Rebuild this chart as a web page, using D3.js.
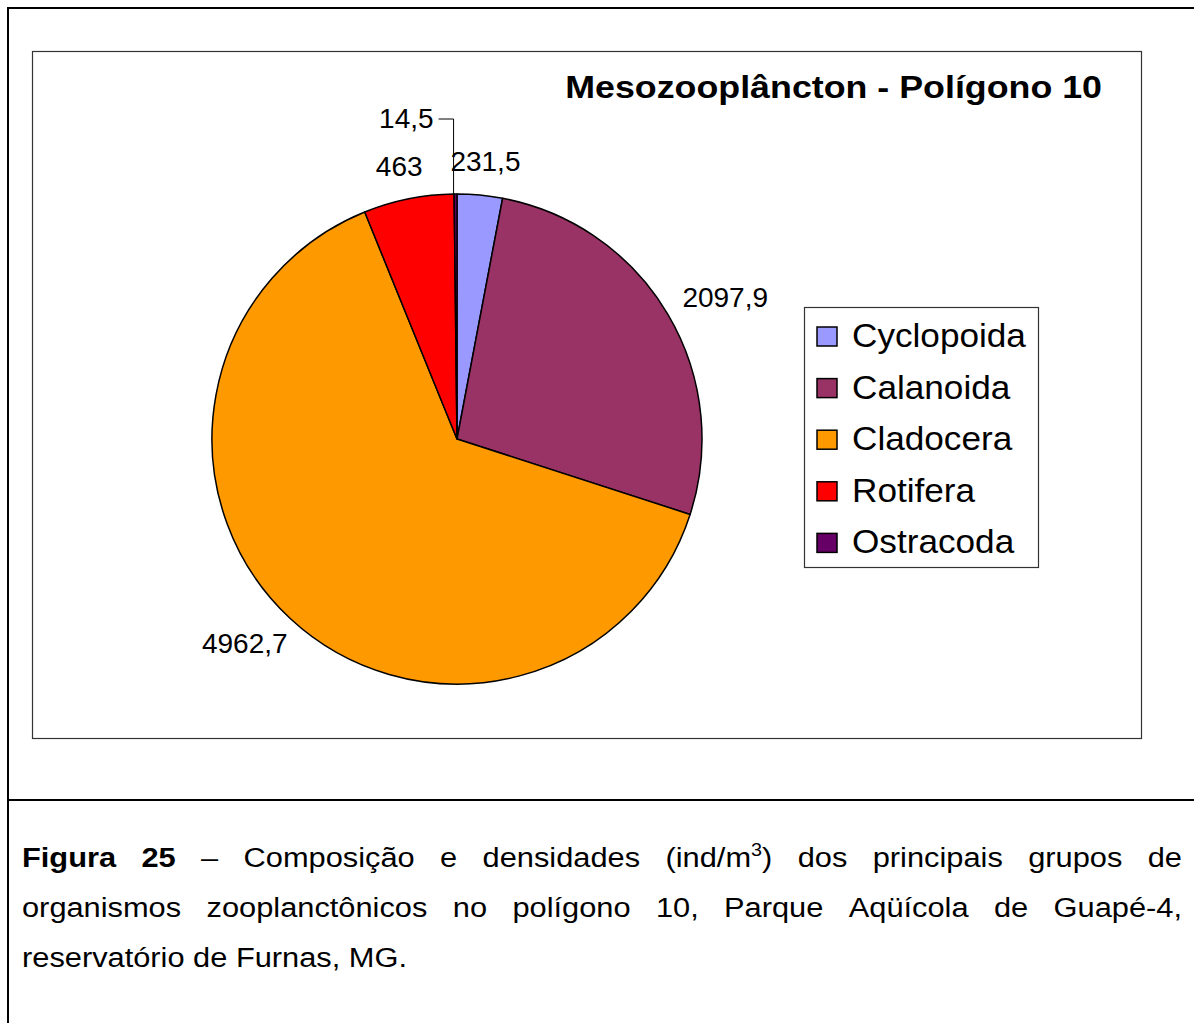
<!DOCTYPE html>
<html>
<head>
<meta charset="utf-8">
<script src="https://cdn.jsdelivr.net/npm/d3@7"></script>
<style>
  body { margin: 0; background: #fff; }
  text { font-family: "Liberation Sans", Arial, sans-serif; fill: #000; }
</style>
</head>
<body>
<div id="chart"></div>
<script>
// Chart data
var categories = ["Cyclopoida", "Calanoida", "Cladocera", "Rotifera", "Ostracoda"];
var values = [231.5, 2097.9, 4962.7, 463, 14.5];
var colors = ["#9999FF", "#993366", "#FF9900", "#FF0000", "#660066"];
var title = "Mesozooplâncton - Polígono 10";

// Caption lines (justified lines, last one left aligned)
var caption1 = [["Figura", true], ["25", true], ["–"], ["Composição"], ["e"], ["densidades"], ["(ind/m|3|)"], ["dos"], ["principais"], ["grupos"], ["de"]];
var caption2 = ["organismos", "zooplanctônicos", "no", "polígono", "10,", "Parque", "Aqüícola", "de", "Guapé-4,"];
var caption3 = "reservatório de Furnas, MG.";

var W = 1194, H = 1023;

var svg = d3.select("#chart").append("svg")
    .attr("width", W)
    .attr("height", H);

// Outer frame
svg.append("path")
    .attr("d", "M" + (W + 5) + ",8 H8 V" + (H + 5))
    .attr("fill", "none")
    .attr("stroke", "#000")
    .attr("stroke-width", 2);
svg.append("line")
    .attr("x1", 8).attr("x2", W + 5)
    .attr("y1", 800).attr("y2", 800)
    .attr("stroke", "#000")
    .attr("stroke-width", 2);

// Chart area box
svg.append("rect")
    .attr("x", 32.5).attr("y", 51.5)
    .attr("width", 1109).attr("height", 687)
    .attr("fill", "#fff")
    .attr("stroke", "#333")
    .attr("stroke-width", 1.2);

// text helper, sx = sideways stretch of the picture's text
function sText(parent, x, y, str, size, anchor, bold, sx) {
    sx = sx || 1;
    return parent.append("text")
        .attr("transform", "translate(" + x + "," + y + ") scale(" + sx + ",1)")
        .attr("text-anchor", anchor || "start")
        .style("font-size", size + "px")
        .style("font-weight", bold ? "bold" : "normal")
        .text(str);
}

// Title, fitted between 565 and 1102
var tt = sText(svg, 1102, 98, title, 32, "end", true);
var tw = tt.node().getComputedTextLength();
tt.attr("transform", "translate(1102,98) scale(" + (537 / tw) + ",1)");

// Pie
var cx = 457, cy = 439, r = 245;
var pie = d3.pie().sort(null).value(function(d) { return d; });
var arcs = pie(values);
var arc = d3.arc().innerRadius(0).outerRadius(r);

var g = svg.append("g").attr("transform", "translate(" + cx + "," + cy + ")");
g.selectAll("path.slice")
    .data(arcs)
    .enter().append("path")
    .attr("class", "slice")
    .attr("d", arc)
    .attr("fill", function(d, i) { return colors[i]; })
    .attr("stroke", "#000")
    .attr("stroke-width", 1.5)
    .attr("stroke-linejoin", "round");

// Labels with decimal comma
var pt = d3.formatLocale({decimal: ",", thousands: ".", grouping: [3], currency: ["", ""]});
var fmt = pt.format(".1~f");
var gap = 24;

arcs.forEach(function(d, i) {
    var a = (d.startAngle + d.endAngle) / 2;
    var s = Math.sin(a), c = -Math.cos(a);
    var ex = r * s, ey = r * c;
    var t = sText(g, 0, 0, fmt(values[i]), 28, "middle");
    var w = t.node().getComputedTextLength(), h = 20;
    if (i == values.length - 1) {
        // small slice: label pulled up-left with a leader line
        var lx = ex - 22, ly = ey - 66;
        t.attr("text-anchor", "end")
            .attr("transform", "translate(" + lx + "," + ly + ")");
        g.append("path")
            .attr("d", "M" + (lx + 5) + "," + (ly - 9) + " H" + (ex - 2) + " V" + ey)
            .attr("fill", "none")
            .attr("stroke", "#000")
            .attr("stroke-width", 1);
        return;
    }
    var lx = ex + s * gap + s * w / 2;
    var ly = ey + c * gap + c * h / 2;
    t.attr("transform", "translate(" + lx + "," + (ly + 10) + ")");
});

// Legend
var legend = svg.append("g").attr("transform", "translate(804,307)");
legend.append("rect")
    .attr("x", 0.5).attr("y", 0.5)
    .attr("width", 234).attr("height", 260)
    .attr("fill", "#fff")
    .attr("stroke", "#333")
    .attr("stroke-width", 1.2);

var item = legend.selectAll("g.item")
    .data(categories)
    .enter().append("g")
    .attr("class", "item")
    .attr("transform", function(d, i) { return "translate(0," + (i * 51.6) + ")"; });
item.append("rect")
    .attr("x", 13).attr("y", 20)
    .attr("width", 20).attr("height", 19)
    .attr("fill", function(d, i) { return colors[i]; })
    .attr("stroke", "#000")
    .attr("stroke-width", 1.5);
item.each(function(d) {
    sText(d3.select(this), 48, 40, d, 33.5, "start", false, 1.05);
});

// Caption
var capL = 22, capR = 1182, capSize = 28, capSX = 1.1;

function justifyLine(words, y) {
    var nodes = words.map(function(wd) {
        var t = svg.append("text")
            .style("font-size", capSize + "px")
            .style("font-weight", wd[1] ? "bold" : "normal");
        var parts = wd[0].split("|");
        t.append("tspan").text(parts[0]);
        if (parts.length > 1) {
            t.append("tspan").attr("dy", -11).style("font-size", "18px").text(parts[1]);
            t.append("tspan").attr("dy", 11).text(parts[2]);
        }
        return t;
    });
    var widths = nodes.map(function(t) { return t.node().getComputedTextLength() * capSX; });
    var space = (capR - capL - d3.sum(widths)) / (nodes.length - 1);
    var x = capL;
    nodes.forEach(function(t, i) {
        t.attr("transform", "translate(" + x + "," + y + ") scale(" + capSX + ",1)");
        x += widths[i] + space;
    });
}

justifyLine(caption1, 867);
justifyLine(caption2.map(function(w) { return [w]; }), 917);
sText(svg, capL, 967, caption3, capSize, "start", false, capSX);
</script>
</body>
</html>
